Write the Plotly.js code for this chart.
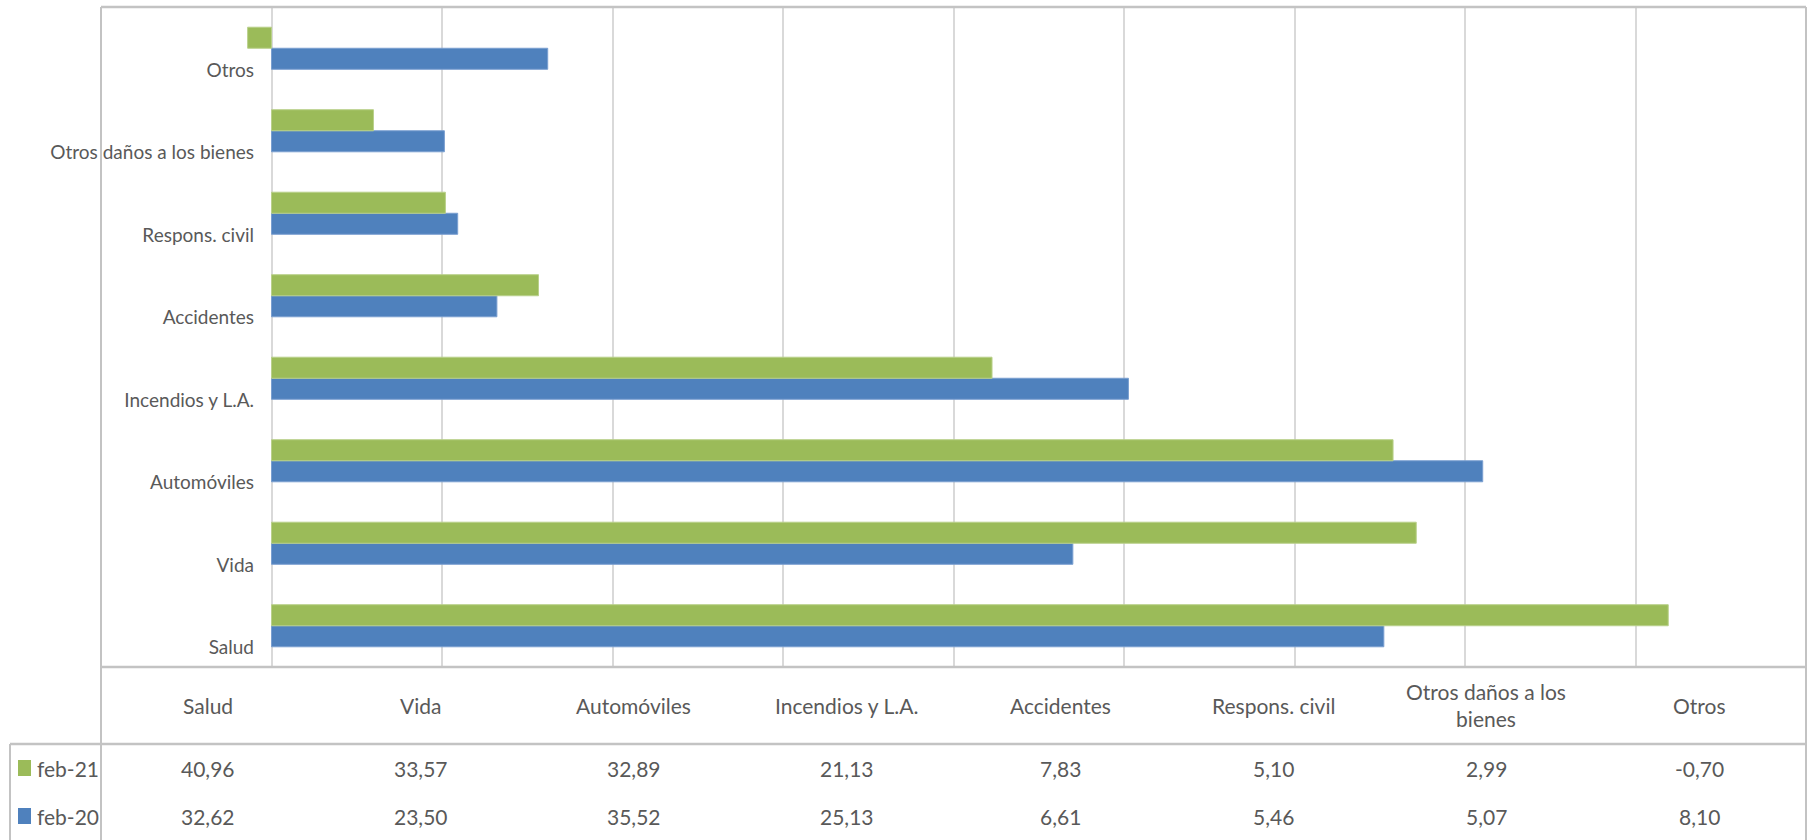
<!DOCTYPE html>
<html>
<head>
<meta charset="utf-8">
<script src="https://cdn.plot.ly/plotly-3.0.1.min.js"></script>
<style>
  html, body { margin: 0; padding: 0; background: #ffffff; }
  #chart { width: 1812px; height: 840px; }
</style>
</head>
<body>
<div id="chart"></div>
<script>
// ---- data ----
const categories = ["Salud", "Vida", "Automóviles", "Incendios y L.A.", "Accidentes",
                    "Respons. civil", "Otros daños a los bienes", "Otros"];
const headerLabels = ["Salud", "Vida", "Automóviles", "Incendios y L.A.", "Accidentes",
                      "Respons. civil", "Otros daños a los<br>bienes", "Otros"];
const seriesNames = ["feb-21", "feb-20"];
const feb21 = [40.96, 33.57, 32.89, 21.13, 7.83, 5.10, 2.99, -0.70];
const feb20 = [32.62, 23.50, 35.52, 25.13, 6.61, 5.46, 5.07, 8.10];
const colors = { "feb-21": "#9BBB59", "feb-20": "#4F81BD" };

// ---- layout geometry (pixels) ----
const W = 1812, H = 840;
const L = 101, R = 1806, T = 7, B = 667;
const FONT = "Lato, Liberation Sans, sans-serif";
const TXT = "#595959";
const FRAME = "#C3C3C3";
const px = x => (x - L) / (R - L);
const py = y => (B - y) / (B - T);
const fmt = v => v.toFixed(2).replace(".", ",");

const traces = [
  {
    type: "bar", orientation: "h", name: seriesNames[1],
    y: categories, x: feb20,
    marker: { color: colors["feb-20"], line: { color: "#7A9FD0", width: 1 } },
    hoverinfo: "x+y+name"
  },
  {
    type: "bar", orientation: "h", name: seriesNames[0],
    y: categories, x: feb21,
    marker: { color: colors["feb-21"], line: { color: "#B9D08A", width: 1 } },
    hoverinfo: "x+y+name"
  }
];

const shapes = [];
const line = (x0, y0, x1, y1, w, c) => shapes.push({
  type: "line", xref: "paper", yref: "paper",
  x0: px(x0), y0: py(y0), x1: px(x1), y1: py(y1),
  line: { color: c || FRAME, width: w || 2 }, layer: "above"
});
// outer frame (plot + table)
line(L, T, R, T, 2.5);
line(L, T, L, H + 2, 2);
line(R, T, R, H + 2, 2);
// table lines
line(L, B, R, B, 2.5);
line(10, 744, R, 744, 2.5);
line(10, 744, 10, H + 2, 2);

const annotations = [];
const colW = (R - L) / categories.length;
const TFS = 21;
// header row
headerLabels.forEach((lab, i) => {
  annotations.push({
    xref: "paper", yref: "paper", x: px(L + colW * (i + 0.5)), y: py(705),
    text: lab, showarrow: false, xanchor: "center", yanchor: "middle",
    font: { family: FONT, size: TFS, color: TXT }
  });
});
// data rows
const rows = [{ name: seriesNames[0], vals: feb21, y: 768 },
              { name: seriesNames[1], vals: feb20, y: 816 }];
rows.forEach(r => {
  r.vals.forEach((v, i) => {
    annotations.push({
      xref: "paper", yref: "paper", x: px(L + colW * (i + 0.5)), y: py(r.y),
      text: fmt(v), showarrow: false, xanchor: "center", yanchor: "middle",
      font: { family: FONT, size: TFS, color: TXT }
    });
  });
  // legend key
  shapes.push({
    type: "rect", xref: "paper", yref: "paper",
    x0: px(18), x1: px(31), y0: py(r.y - 8), y1: py(r.y + 8),
    fillcolor: colors[r.name], line: { width: 0 }, layer: "above"
  });
  annotations.push({
    xref: "paper", yref: "paper", x: px(35), y: py(r.y),
    text: r.name, showarrow: false, xanchor: "left", yanchor: "middle",
    font: { family: FONT, size: TFS, color: TXT }
  });
});

const layout = {
  width: W, height: H, autosize: false,
  margin: { l: L, r: W - R, t: T, b: H - B, pad: 0 },
  paper_bgcolor: "#ffffff", plot_bgcolor: "#ffffff",
  showlegend: false,
  barmode: "group", bargap: 0.49, bargroupgap: 0,
  font: { family: FONT, color: TXT },
  xaxis: {
    range: [-5, 45], dtick: 5, tick0: 0,
    showgrid: true, gridcolor: "#D9D9D9", gridwidth: 2,
    zeroline: true, zerolinecolor: "#D9D9D9", zerolinewidth: 2,
    showticklabels: false, ticks: "", showline: false, fixedrange: true
  },
  yaxis: {
    type: "category", categoryorder: "array", categoryarray: categories,
    anchor: "free", position: (271 - L) / (R - L), side: "left",
    showgrid: false, zeroline: false, showline: false, ticks: "",
    ticklabelstandoff: 17, ticklabelshift: 22,
    tickfont: { family: FONT, size: 19, color: TXT }, fixedrange: true
  },
  shapes: shapes,
  annotations: annotations
};

Plotly.newPlot("chart", traces, layout, { displayModeBar: false, staticPlot: true });
</script>
</body>
</html>
